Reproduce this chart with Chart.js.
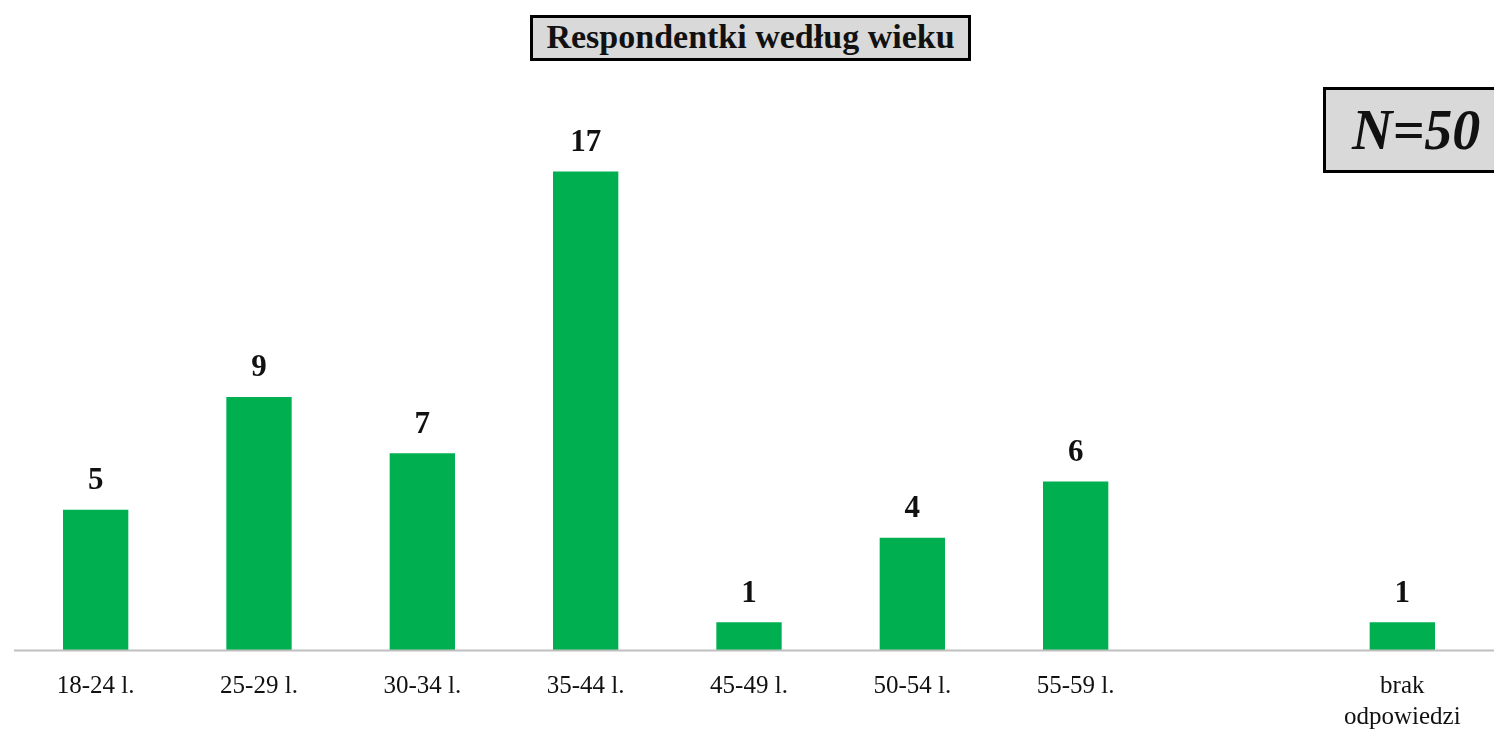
<!DOCTYPE html>
<html>
<head>
<meta charset="utf-8">
<script src="https://cdn.jsdelivr.net/npm/chart.js@4/dist/chart.umd.min.js"></script>
<style>
  html, body { margin: 0; padding: 0; background: #fff; }
  #wrap { position: relative; width: 1494px; height: 733px; overflow: hidden; }
  #chart { position: absolute; left: 0; top: 0; }
  .box {
    position: absolute;
    background: #d9d9d9;
    border: 3px solid #000;
    box-sizing: border-box;
    font-family: "Liberation Serif", serif;
    font-weight: bold;
    color: #111;
    text-align: center;
    white-space: nowrap;
  }
  #title { left: 530px; top: 15px; width: 441px; height: 46px; font-size: 34px; line-height: 38px; }
  #nbox { left: 1323px; top: 87px; width: 190px; height: 86px; font-size: 56px; font-style: italic; line-height: 80px; text-align: left; padding-left: 26px; }
</style>
</head>
<body>
<div id="wrap">
  <canvas id="chart" width="1494" height="757"></canvas>
  <div id="title" class="box">Respondentki według wieku</div>
  <div id="nbox" class="box">N=50</div>
</div>
<script>
// --- DATA ---
const categories = ['18-24 l.', '25-29 l.', '30-34 l.', '35-44 l.', '45-49 l.', '50-54 l.', '55-59 l.', '', ['brak', 'odpowiedzi']];
const counts = [5, 9, 7, 17, 1, 4, 6, null, 1];

const BAR_COLOR = '#00b050';

// value labels above bars + axis line running to the right edge
const valueLabels = {
  id: 'valueLabels',
  afterDatasetsDraw(chart) {
    const ctx = chart.ctx;
    const meta = chart.getDatasetMeta(0);
    const area = chart.chartArea;
    ctx.save();
    ctx.strokeStyle = '#bfbfbf';
    ctx.lineWidth = 2;
    ctx.beginPath();
    ctx.moveTo(area.left, area.bottom);
    ctx.lineTo(chart.width, area.bottom);
    ctx.stroke();

    ctx.font = 'bold 31px "Liberation Serif", serif';
    ctx.fillStyle = '#111';
    ctx.textAlign = 'center';
    ctx.textBaseline = 'bottom';
    meta.data.forEach((bar, i) => {
      if (counts[i] == null) return;
      ctx.fillText(String(counts[i]), bar.x, bar.y - 13);
    });
    ctx.restore();
  }
};

new Chart(document.getElementById('chart').getContext('2d'), {
  type: 'bar',
  data: {
    labels: categories,
    datasets: [{
      data: counts,
      backgroundColor: BAR_COLOR,
      borderWidth: 0,
      categoryPercentage: 1,
      barPercentage: 0.4
    }]
  },
  options: {
    responsive: false,
    animation: false,
    layout: { padding: { left: 14, right: 10, top: 87, bottom: 4 } },
    scales: {
      x: {
        grid: { display: false, drawTicks: false },
        border: { display: false },
        ticks: {
          color: '#111',
          padding: 20,
          maxRotation: 0,
          autoSkip: false,
          font: { family: '"Liberation Serif", serif', size: 25, lineHeight: 1.25 }
        }
      },
      y: {
        display: false,
        min: 0,
        max: 20
      }
    },
    plugins: {
      legend: { display: false },
      tooltip: { enabled: false },
      title: { display: false }
    }
  },
  plugins: [valueLabels]
});
</script>
</body>
</html>
